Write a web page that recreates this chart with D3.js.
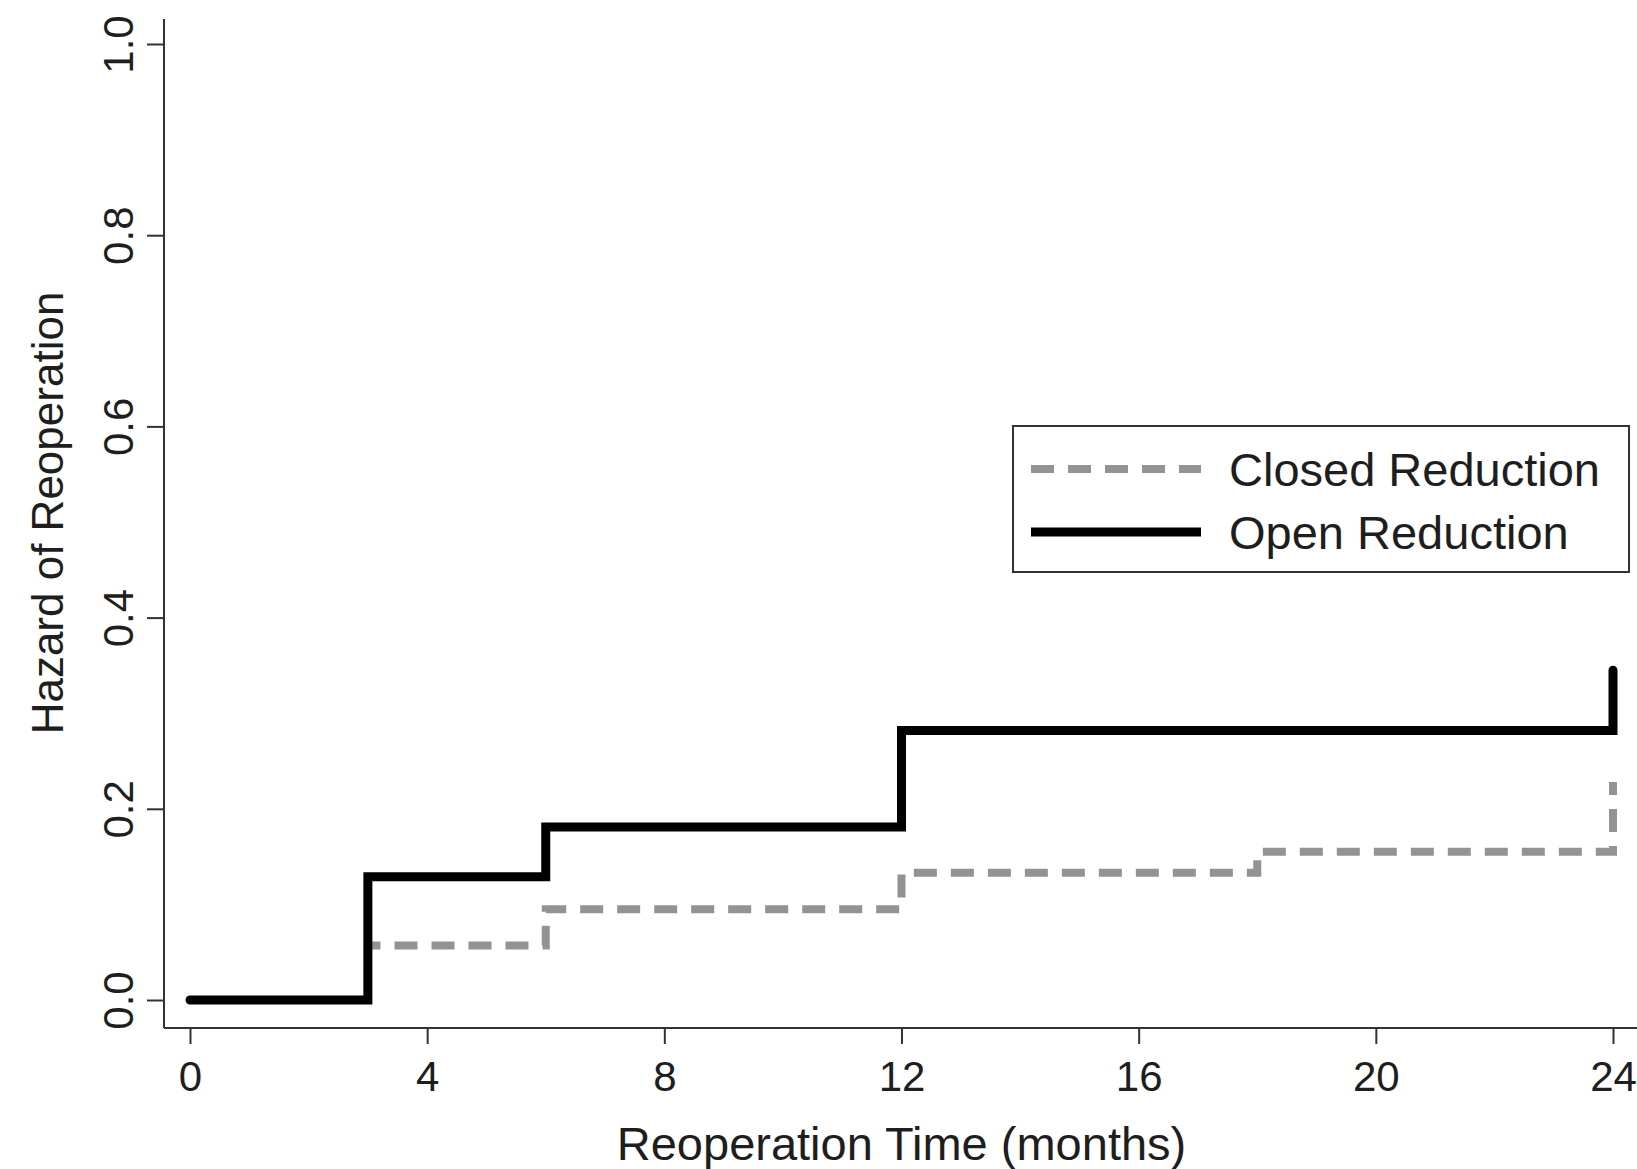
<!DOCTYPE html>
<html>
<head>
<meta charset="utf-8">
<script src="https://cdn.jsdelivr.net/npm/d3@7"></script>
<style>
  html, body { margin: 0; padding: 0; background: #fff; }
  svg { display: block; font-family: "Liberation Sans", Arial, sans-serif; }
</style>
</head>
<body>
<div id="chart"></div>
<script>
// step data
var openTimes = [0, 3, 6, 12, 24];
var openHazard = [0, 0.129, 0.181, 0.282, 0.345];
var closedTimes = [0, 3, 6, 12, 18, 24];
var closedHazard = [0, 0.057, 0.095, 0.133, 0.155, 0.228];

var xTicks = [0, 4, 8, 12, 16, 20, 24];
var yTicks = [0, 0.2, 0.4, 0.6, 0.8, 1.0];
var seriesNames = ["Closed Reduction", "Open Reduction"];

var W = 1637, H = 1169;
var axisColor = "#333";
var textColor = "#1e1e1e";

var svg = d3.select("#chart")
    .append("svg")
    .attr("width", W)
    .attr("height", H);

// scales
var x = d3.scaleLinear().domain([0, 24]).range([190, 1613]);
var y = d3.scaleLinear().domain([0, 1]).range([1000, 44]);

var axisLeftX = 164, axisBottomY = 1028;

// y axis
var yAxis = svg.append("g")
    .attr("transform", "translate(" + axisLeftX + ",0)")
    .call(d3.axisLeft(y).tickValues(yTicks).tickFormat(d3.format(".1f"))
        .tickSize(17).tickSizeOuter(0));
yAxis.select(".domain").remove();
yAxis.append("line")
    .attr("x1", 0).attr("x2", 0)
    .attr("y1", 19).attr("y2", axisBottomY)
    .attr("stroke", axisColor).attr("stroke-width", 2);
yAxis.selectAll(".tick line").attr("stroke", axisColor).attr("stroke-width", 2);
yAxis.selectAll(".tick text")
    .attr("x", 0).attr("dy", 0)
    .attr("transform", "translate(-31,0) rotate(-90)")
    .attr("text-anchor", "middle")
    .attr("fill", textColor)
    .style("font-size", "42px");

// x axis
var xAxis = svg.append("g")
    .attr("transform", "translate(0," + axisBottomY + ")")
    .call(d3.axisBottom(x).tickValues(xTicks).tickSize(16).tickSizeOuter(0));
xAxis.select(".domain").remove();
xAxis.append("line")
    .attr("x1", axisLeftX).attr("x2", W)
    .attr("y1", 0).attr("y2", 0)
    .attr("stroke", axisColor).attr("stroke-width", 2);
xAxis.selectAll(".tick line").attr("stroke", axisColor).attr("stroke-width", 2);
xAxis.selectAll(".tick text")
    .attr("y", 63).attr("dy", 0)
    .attr("fill", textColor)
    .style("font-size", "42px");

// axis titles
svg.append("text")
    .attr("x", (x(0) + x(24)) / 2)
    .attr("y", 1160)
    .attr("text-anchor", "middle")
    .attr("fill", textColor)
    .style("font-size", "47px")
    .text("Reoperation Time (months)");

svg.append("text")
    .attr("transform", "translate(63,513) rotate(-90)")
    .attr("text-anchor", "middle")
    .attr("fill", textColor)
    .style("font-size", "44px")
    .text("Hazard of Reoperation");

// step lines
var step = d3.line()
    .x(function (d) { return x(d.t); })
    .y(function (d) { return y(d.v); })
    .curve(d3.curveStepAfter);

var closedData = closedTimes.map(function (t, i) { return { t: t, v: closedHazard[i] }; });
var openData = openTimes.map(function (t, i) { return { t: t, v: openHazard[i] }; });

svg.append("path")
    .datum(closedData)
    .attr("fill", "none")
    .attr("stroke", "#939393")
    .attr("stroke-width", 8)
    .attr("stroke-dasharray", "23,14")
    .attr("d", step);

svg.append("path")
    .datum(openData)
    .attr("fill", "none")
    .attr("stroke", "#000")
    .attr("stroke-width", 9)
    .attr("stroke-linecap", "round")
    .attr("stroke-linejoin", "miter")
    .attr("d", step);

// legend
var legend = svg.append("g");
legend.append("rect")
    .attr("x", 1013).attr("y", 426)
    .attr("width", 616).attr("height", 146)
    .attr("fill", "#fff")
    .attr("stroke", axisColor)
    .attr("stroke-width", 2);

var legendRows = [469, 532];
legend.append("line")
    .attr("x1", 1031).attr("x2", 1201)
    .attr("y1", legendRows[0]).attr("y2", legendRows[0])
    .attr("stroke", "#939393").attr("stroke-width", 8)
    .attr("stroke-dasharray", "23,14");
legend.append("line")
    .attr("x1", 1031).attr("x2", 1201)
    .attr("y1", legendRows[1]).attr("y2", legendRows[1])
    .attr("stroke", "#000").attr("stroke-width", 9);

legend.selectAll("text.lab")
    .data(seriesNames)
    .enter()
    .append("text")
    .attr("class", "lab")
    .attr("x", 1229)
    .attr("y", function (d, i) { return legendRows[i] + 17; })
    .attr("fill", textColor)
    .style("font-size", "47px")
    .text(function (d) { return d; });
</script>
</body>
</html>
